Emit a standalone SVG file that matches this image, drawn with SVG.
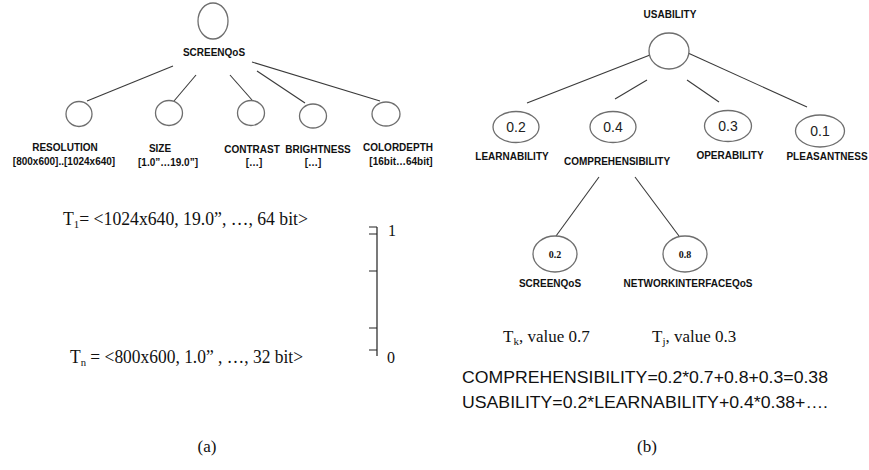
<svg xmlns="http://www.w3.org/2000/svg" width="869" height="470" viewBox="0 0 869 470">
  <style>
    .node { fill: #ffffff; stroke: #6e6e6e; stroke-width: 1.3; }
    .edge { stroke: #3a3a3a; stroke-width: 1.1; fill: none; }
    .tick { stroke: #222222; stroke-width: 1.2; fill: none; }
    .lbl { font-family: "Liberation Sans", Arial, sans-serif; font-weight: bold; font-size: 10px; fill: #111111; text-anchor: middle; }
    .num { font-family: "Liberation Sans", Arial, sans-serif; font-size: 14px; fill: #222222; text-anchor: middle; }
    .wgt { font-family: "Liberation Serif", "Times New Roman", serif; font-weight: bold; font-size: 10px; fill: #111111; text-anchor: middle; }
    .tup { font-family: "Liberation Serif", "Times New Roman", serif; font-size: 18px; fill: #111111; }
    .sub { font-size: 11px; }
    .cap { font-family: "Liberation Serif", "Times New Roman", serif; font-size: 17px; fill: #111111; text-anchor: middle; }
    .eq { font-family: "Liberation Sans", Arial, sans-serif; font-size: 17px; fill: #111111; }
  </style>
  <rect width="869" height="470" fill="#ffffff"/>

  <!-- (a) attribute tree of SCREENQoS -->
  <g id="connectors-a">
    <line class="edge" x1="173" y1="66" x2="87" y2="101"/>
    <line class="edge" x1="196" y1="75" x2="174" y2="101"/>
    <line class="edge" x1="230" y1="75" x2="252" y2="100"/>
    <line class="edge" x1="257" y1="71" x2="305" y2="103"/>
    <line class="edge" x1="252" y1="62" x2="380" y2="101"/>
  </g>
  <g id="screenqos-root">
    <ellipse class="node" cx="213" cy="21" rx="15" ry="18"/>
    <text class="lbl" x="214" y="56">SCREENQoS</text>
  </g>
  <g id="resolution">
    <ellipse class="node" cx="79" cy="114" rx="13" ry="12.5"/>
    <text class="lbl" x="65" y="151">RESOLUTION</text>
    <text class="lbl" x="64" y="165">[800x600]..[1024x640]</text>
  </g>
  <g id="size">
    <ellipse class="node" cx="169" cy="113" rx="13.5" ry="12.5"/>
    <text class="lbl" x="160" y="152">SIZE</text>
    <text class="lbl" x="168" y="166">[1.0”…19.0”]</text>
  </g>
  <g id="contrast">
    <ellipse class="node" cx="251" cy="113" rx="13.5" ry="12.5"/>
    <text class="lbl" x="252" y="153">CONTRAST</text>
    <text class="lbl" x="254" y="166">[…]</text>
  </g>
  <g id="brightness">
    <ellipse class="node" cx="313" cy="116" rx="13.5" ry="12"/>
    <text class="lbl" x="318" y="153">BRIGHTNESS</text>
    <text class="lbl" x="313" y="166">[…]</text>
  </g>
  <g id="colordepth">
    <ellipse class="node" cx="386" cy="114" rx="14" ry="12"/>
    <text class="lbl" x="398" y="151">COLORDEPTH</text>
    <text class="lbl" x="401" y="165">[16bit…64bit]</text>
  </g>

  <!-- tuples and the 0..1 scale -->
  <g id="tuples">
    <text class="tup" x="63" y="225" textLength="245" lengthAdjust="spacingAndGlyphs">T<tspan class="sub" dy="3">1</tspan><tspan dy="-3">= &lt;1024x640, 19.0”, …, 64 bit&gt;</tspan></text>
    <text class="tup" x="70" y="363" textLength="233" lengthAdjust="spacingAndGlyphs">T<tspan class="sub" dy="3">n</tspan><tspan dy="-3"> = &lt;800x600, 1.0” , …, 32 bit&gt;</tspan></text>
  </g>
  <g id="scale">
    <path class="tick" d="M377 227 V356 M369 227 H377 M369 234 H377 M369 271 H377 M369 328 H377 M369 350 H377"/>
    <text class="tup" x="388" y="236" style="font-size:16px">1</text>
    <text class="tup" x="387" y="363" style="font-size:16px">0</text>
  </g>
  <text class="cap" x="207" y="452">(a)</text>

  <!-- (b) usability tree -->
  <g id="connectors-b">
    <line class="edge" x1="650" y1="55" x2="527" y2="103"/>
    <line class="edge" x1="647" y1="80" x2="615" y2="99"/>
    <line class="edge" x1="687" y1="80" x2="719" y2="102"/>
    <line class="edge" x1="688" y1="53" x2="807" y2="107"/>
    <line class="edge" x1="599" y1="177" x2="556" y2="236"/>
    <line class="edge" x1="635" y1="177" x2="679" y2="236"/>
  </g>
  <g id="usability">
    <text class="lbl" x="670" y="18">USABILITY</text>
    <ellipse class="node" cx="669" cy="51" rx="20" ry="18"/>
  </g>
  <g id="learnability">
    <ellipse class="node" cx="516" cy="127" rx="23" ry="15.5"/>
    <text class="num" x="516" y="132">0.2</text>
    <text class="lbl" x="512" y="160">LEARNABILITY</text>
  </g>
  <g id="comprehensibility">
    <ellipse class="node" cx="613" cy="127" rx="23" ry="15.5"/>
    <text class="num" x="613" y="132">0.4</text>
    <text class="lbl" x="617" y="165">COMPREHENSIBILITY</text>
  </g>
  <g id="operability">
    <ellipse class="node" cx="728" cy="126" rx="23.5" ry="15.5"/>
    <text class="num" x="728" y="131">0.3</text>
    <text class="lbl" x="730" y="159">OPERABILITY</text>
  </g>
  <g id="pleasantness">
    <ellipse class="node" cx="820" cy="131" rx="24.5" ry="16"/>
    <text class="num" x="820" y="136">0.1</text>
    <text class="lbl" x="827" y="160">PLEASANTNESS</text>
  </g>
  <g id="screenqos-leaf">
    <ellipse class="node" cx="555" cy="254" rx="22" ry="18"/>
    <text class="wgt" x="555" y="258">0.2</text>
    <text class="lbl" x="550" y="287">SCREENQoS</text>
  </g>
  <g id="networkinterfaceqos">
    <ellipse class="node" cx="685" cy="254" rx="22" ry="18"/>
    <text class="wgt" x="685" y="258">0.8</text>
    <text class="lbl" x="688" y="287">NETWORKINTERFACEQoS</text>
  </g>

  <!-- tuple values and aggregation -->
  <g id="values">
    <text class="tup" x="503" y="342" style="font-size:17px">T<tspan class="sub" dy="3">k</tspan><tspan dy="-3">, value 0.7</tspan></text>
    <text class="tup" x="652" y="342" style="font-size:17px">T<tspan class="sub" dy="3">j</tspan><tspan dy="-3">, value 0.3</tspan></text>
    <text class="eq" x="462" y="383" textLength="366" lengthAdjust="spacingAndGlyphs">COMPREHENSIBILITY=0.2*0.7+0.8+0.3=0.38</text>
    <text class="eq" x="462" y="408" textLength="366" lengthAdjust="spacingAndGlyphs">USABILITY=0.2*LEARNABILITY+0.4*0.38+….</text>
  </g>
  <text class="cap" x="647" y="452">(b)</text>
</svg>
